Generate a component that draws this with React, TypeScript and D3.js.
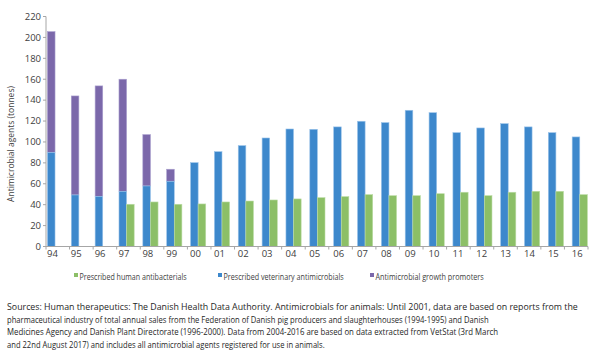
import React, { useLayoutEffect, useRef } from "react";
import * as d3 from "d3";

const years = ["94","95","96","97","98","99","00","01","02","03","04","05","06","07","08","09","10","11","12","13","14","15","16"];
const veterinary = [90,49.3,48,52.8,57.9,62.4,80.2,90.7,96.5,103.8,112.4,112.1,114.4,119.8,118.5,130.3,128,108.9,113.4,117.5,114.4,108.9,104.8];
const growthTotal = [205.5,144,153.6,160,107,73.9,null,null,null,null,null,null,null,null,null,null,null,null,null,null,null,null,null];
const human = [null,null,null,40.4,42.6,40.4,40.7,42.6,43.5,44.5,45.5,46.7,47.7,49.6,48.6,48.6,50.5,51.9,48.6,51.9,52.8,52.8,49.6];
const yTicks = [0,20,40,60,80,100,120,140,160,180,200,220];
const legendItems = [
  { label: "Prescribed human antibacterials", color: "#8cbf67", x: 74, w: 107 },
  { label: "Prescribed veterinary antimicrobials", color: "#3d88cc", x: 218, w: 120 },
  { label: "Antimicrobial growth promoters", color: "#7b68aa", x: 370, w: 108 },
];
const footer = [
  { text: "Sources: Human therapeutics: The Danish Health Data Authority. Antimicrobials for animals: Until 2001, data are based on reports from the", w: 570 },
  { text: "pharmaceutical industry of total annual sales from the Federation of Danish pig producers and slaughterhouses (1994-1995) and Danish", w: 481 },
  { text: "Medicines Agency and Danish Plant Directorate (1996-2000). Data from 2004-2016 are based on data extracted from VetStat (3rd March", w: 491 },
  { text: "and 22nd August 2017) and includes all antimicrobial agents registered for use in animals.", w: 317 },
];

const BLUE = "#3d88cc";
const GREEN = "#8cbf67";
const PURPLE = "#7b68aa";

export default function App() {
  const W = 604, H = 357;
  const svgRef = useRef<SVGSVGElement>(null);
  const axisX = 46;
  const x = d3.scaleBand<string>().domain(years).range([43.1, 591.7]).paddingInner(0).paddingOuter(0);
  const y = d3.scaleLinear().domain([0, 220]).range([246.5, 16.5]);
  const step = x.step();
  const barW = 7.6;
  const off = (step - 2 * barW) / 2;
  const tickX = d3.scaleLinear().domain([0, years.length]).range([axisX, 588]);
  const font = "'Open Sans', 'Noto Sans', sans-serif";

  useLayoutEffect(() => {
    const svg = d3.select(svgRef.current);
    svg.selectAll<SVGTextElement, unknown>("text.fit").each(function () {
      const el = this as SVGTextElement;
      const target = +(el.getAttribute("data-w") || 0);
      const tx = +(el.getAttribute("data-x") || 0);
      const ty = +(el.getAttribute("data-y") || 0);
      const len = el.getComputedTextLength();
      const s = len > 0 ? target / len : 1;
      el.setAttribute("transform", `translate(${tx},${ty}) scale(${s},1)`);
    });
  }, []);

  return (
    <svg ref={svgRef} width={W} height={H} style={{ position: "absolute", left: 0, top: 0, background: "#fff" }} fontFamily={font}>
      {/* bars */}
      {years.map((yr, i) => {
        const x0 = (x(yr) as number) + off;
        const g = growthTotal[i];
        const h = human[i];
        return (
          <g key={yr}>
            {g != null && (
              <rect x={x0} y={y(g)} width={barW} height={y(veterinary[i]) - y(g)} fill={PURPLE} stroke="#a99fce" strokeWidth={0.6} />
            )}
            <rect x={x0} y={y(veterinary[i])} width={barW} height={y(0) - y(veterinary[i])} fill={BLUE} stroke="#9cc4ea" strokeWidth={0.6} />
            {h != null && (
              <rect x={x0 + barW} y={y(h)} width={barW} height={y(0) - y(h)} fill={GREEN} stroke="#bcdca6" strokeWidth={0.6} />
            )}
          </g>
        );
      })}
      {/* y axis */}
      <line x1={axisX} x2={axisX} y1={y(220)} y2={y(0)} stroke="#a6a6a6" strokeWidth={1} />
      {yTicks.map((t) => (
        <g key={t}>
          <line x1={axisX - 3} x2={axisX} y1={y(t)} y2={y(t)} stroke="#a6a6a6" />
          <text x={axisX - 5} y={y(t)} dy="0.35em" textAnchor="end" fontSize={9.5} fill="#404040">{t}</text>
        </g>
      ))}
      {/* x axis */}
      <line x1={axisX} x2={588} y1={y(0)} y2={y(0)} stroke="#a6a6a6" strokeWidth={1} />
      {d3.range(years.length + 1).map((i) => (
        <line key={i} x1={tickX(i)} x2={tickX(i)} y1={y(0)} y2={y(0) + 3} stroke="#a6a6a6" />
      ))}
      {years.map((yr) => (
        <text key={yr} x={(x(yr) as number) + off + barW / 2 + 1.2} y={257} textAnchor="middle" fontSize={9.5} fill="#404040">{yr}</text>
      ))}
      {/* y title */}
      <text transform={`translate(14,144) rotate(-90)`} textAnchor="middle" fontSize={8.5} fill="#404040">Antimicrobial agents (tonnes)</text>
      {/* legend */}
      {legendItems.map((it) => (
        <g key={it.label}>
          <rect x={it.x} y={273} width={4} height={4} fill={it.color} />
          <text className="fit" data-w={it.w} data-x={it.x + 5.5} data-y={280} transform={`translate(${it.x + 5.5},280) scale(0.85,1)`} fontSize={9.5} fill="#404040">{it.label}</text>
        </g>
      ))}
      {/* footer */}
      {footer.map((f, i) => (
        <text key={i} className="fit" data-w={f.w} data-x={7} data-y={310 + i * 12.7} transform={`translate(7,${310 + i * 12.7}) scale(0.85,1)`} fontSize={9.2} fill="#262626">{f.text}</text>
      ))}
    </svg>
  );
}
